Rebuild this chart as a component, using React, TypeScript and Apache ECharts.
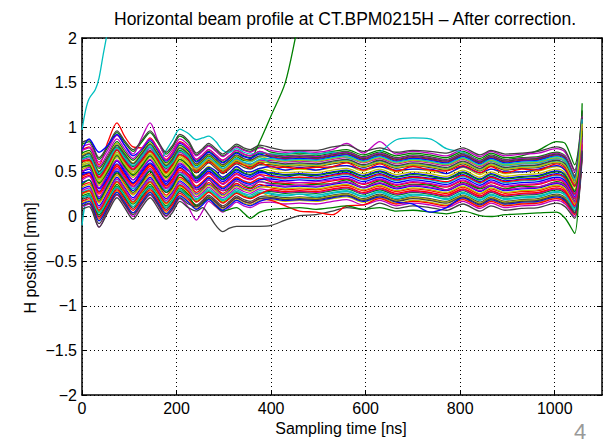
import React, { useEffect, useRef } from "react";
import * as echarts from "echarts";

// Sampling instants (ns) shared by the traces
const sampleTimes = [0, 15, 36, 55, 74, 90, 108, 126, 144, 160, 178, 192, 207, 225, 242, 255, 268, 283, 298, 312, 327, 342, 356, 376, 400, 430, 460, 495, 530, 560, 595, 630, 665, 700, 736, 771, 806, 842, 865, 895, 930, 965, 1004, 1022, 1042, 1058];

// Trace that leaves the plot at the very start (own sampling instants)
const cyanRiseTimes = [0, 8, 15, 28, 36, 45, 55, 65];
const cyanRiseValues = [0.97, 1.2, 1.32, 1.42, 1.55, 1.82, 2.1, 2.4];

// H position traces [mm]
const line01 = [0.50,0.53,0.32,0.47,0.63,0.52,0.41,0.52,0.63,0.52,0.39,0.47,0.59,0.52, 0.42,0.47,0.53,0.47,0.41,0.46,0.52,0.48,0.46,0.51, 0.46,0.44,0.47,0.44,0.47,0.49,0.43,0.48,0.42,0.45,0.43,0.42,0.47,0.39,0.45,0.40,0.42,0.43,0.48,0.44, 0.26,0.94];
const line02 = [0.23,0.26,0.05,0.20,0.36,0.25,0.14,0.25,0.36,0.25,0.12,0.20,0.32,0.25, 0.17,0.22,0.28,0.22,0.16,0.21,0.27,0.23,0.21,0.26, 0.28,0.26,0.27,0.26,0.29,0.31,0.25,0.30,0.24,0.27,0.25,0.22,0.29,0.21,0.27,0.22,0.24,0.25,0.30,0.26, 0.10,0.79];
const line03 = [0.75,0.78,0.58,0.84,1.05,0.90,0.78,0.77,0.88,0.77,0.64,0.72,0.84,0.77, 0.64,0.69,0.75,0.69,0.63,0.68,0.74,0.70,0.68,0.73, 0.67,0.65,0.66,0.65,0.68,0.70,0.64,0.69,0.63,0.66,0.64,0.61,0.68,0.60,0.66,0.61,0.63,0.64,0.69,0.65, 0.44,1.10];
const line04 = [-0.10,0.25,0.22,0.37,0.53,0.42,0.31,0.42,0.53,0.42,0.29,0.37,0.49,0.42, 0.33,0.38,0.44,0.38,0.32,0.37,0.43,0.39,0.37,0.42, 0.44,0.42,0.43,0.42,0.45,0.47,0.41,0.46,0.40,0.43,0.41,0.38,0.45,0.37,0.43,0.38,0.40,0.41,0.46,0.42, 0.24,0.92];
const line05 = [0.63,0.66,0.45,0.60,0.76,0.65,0.54,0.65,0.76,0.65,0.52,0.60,0.72,0.65, 0.54,0.59,0.65,0.59,0.53,0.58,0.64,0.60,0.58,0.63, 0.63,0.61,0.62,0.61,0.64,0.66,0.60,0.65,0.59,0.62,0.60,0.57,0.64,0.56,0.62,0.57,0.59,0.60,0.65,0.61, 0.40,1.07];
const line06 = [0.15,0.18,-0.04,0.12,0.28,0.17,0.04,0.17,0.28,0.17,0.04,0.12,0.24,0.17, 0.09,0.14,0.20,0.14,0.08,0.13,0.19,0.15,0.13,0.18, 0.19,0.17,0.18,0.17,0.20,0.22,0.16,0.21,0.15,0.18,0.16,0.13,0.20,0.12,0.18,0.13,0.15,0.16,0.21,0.17, 0.03,0.72];
const line07 = [0.55,0.58,0.37,0.52,0.68,0.57,0.46,0.57,0.68,0.57,0.44,0.52,0.64,0.57, 0.49,0.54,0.60,0.54,0.48,0.53,0.59,0.55,0.53,0.58, 0.58,0.56,0.57,0.56,0.59,0.61,0.55,0.60,0.54,0.57,0.55,0.52,0.59,0.51,0.57,0.52,0.54,0.55,0.60,0.56, 0.36,1.03];
const line08 = [0.31,0.34,0.12,0.28,0.44,0.33,0.21,0.33,0.44,0.33,0.20,0.28,0.40,0.33, 0.25,0.30,0.36,0.30,0.24,0.29,0.35,0.31,0.29,0.34, 0.35,0.33,0.34,0.33,0.36,0.38,0.32,0.37,0.31,0.34,0.32,0.29,0.36,0.28,0.34,0.29,0.31,0.32,0.37,0.33, 0.16,0.85];
const line09 = [0.81,0.84,0.64,0.78,0.94,0.83,0.73,0.83,0.94,0.83,0.70,0.78,0.90,0.83, 0.69,0.74,0.80,0.74,0.68,0.73,0.79,0.75,0.73,0.78, 0.72,0.70,0.71,0.70,0.73,0.75,0.69,0.74,0.68,0.71,0.69,0.66,0.73,0.65,0.71,0.66,0.68,0.74,0.84,0.82, 0.58,1.18];
const line10 = [0.43,0.46,0.25,0.40,0.56,0.45,0.34,0.45,0.56,0.45,0.32,0.40,0.52,0.45, 0.34,0.39,0.45,0.39,0.33,0.38,0.44,0.40,0.38,0.43, 0.39,0.37,0.38,0.37,0.40,0.42,0.36,0.41,0.35,0.38,0.36,0.33,0.40,0.32,0.38,0.33,0.35,0.36,0.41,0.37, 0.20,0.88];
const line11 = [0.67,0.70,0.50,0.64,0.80,0.69,0.59,0.69,0.80,0.69,0.56,0.64,0.76,0.69, 0.57,0.62,0.68,0.62,0.56,0.61,0.67,0.63,0.61,0.66, 0.60,0.58,0.59,0.58,0.61,0.63,0.57,0.62,0.56,0.59,0.57,0.54,0.61,0.53,0.59,0.54,0.56,0.57,0.62,0.58, 0.38,1.05];
const line12 = [0.11,0.14,-0.12,0.08,0.24,0.13,0.00,0.13,0.24,0.13,0.00,0.08,0.20,0.10, -0.04,0.06,0.17,0.11,0.05,0.10,0.16,0.12,0.10,0.15, 0.16,0.14,0.15,0.14,0.17,0.19,0.13,0.18,0.12,0.15,0.13,0.10,0.17,0.09,0.15,0.10,0.12,0.13,0.18,0.14, 0.00,0.70];
const line13 = [0.59,0.62,0.41,0.56,0.72,0.61,0.50,0.61,0.72,0.61,0.48,0.56,0.68,0.61, 0.51,0.56,0.62,0.56,0.50,0.55,0.61,0.57,0.55,0.60, 0.54,0.52,0.53,0.52,0.55,0.57,0.51,0.56,0.50,0.53,0.51,0.48,0.55,0.47,0.53,0.48,0.50,0.51,0.56,0.52, 0.33,1.00];
const line14 = [0.19,0.22,0.00,0.16,0.32,0.21,0.09,0.21,0.32,0.21,0.08,0.16,0.28,0.21, 0.13,0.18,0.24,0.18,0.12,0.17,0.23,0.19,0.17,0.22, 0.23,0.21,0.22,0.21,0.24,0.26,0.20,0.25,0.19,0.22,0.20,0.17,0.24,0.16,0.22,0.17,0.19,0.20,0.25,0.21, 0.06,0.75];
const line15 = [0.46,0.49,0.28,0.43,0.59,0.48,0.37,0.48,0.59,0.48,0.35,0.43,0.55,0.48, 0.40,0.45,0.51,0.45,0.39,0.44,0.50,0.46,0.44,0.49, 0.49,0.47,0.48,0.47,0.50,0.52,0.46,0.51,0.45,0.48,0.46,0.43,0.50,0.42,0.48,0.43,0.45,0.46,0.51,0.47, 0.28,0.96];
const line16 = [0.71,0.74,0.54,0.68,0.84,0.73,0.63,0.73,0.84,0.73,0.60,0.68,0.80,0.73, 0.62,0.67,0.73,0.67,0.61,0.66,0.72,0.68,0.66,0.71, 0.70,0.68,0.69,0.68,0.71,0.73,0.67,0.72,0.66,0.69,0.67,0.64,0.71,0.63,0.69,0.64,0.66,0.67,0.72,0.68, 0.46,1.13];
const line17 = [0.35,0.38,0.16,0.32,0.48,0.37,0.25,0.37,0.48,0.37,0.24,0.32,0.44,0.37, 0.27,0.32,0.38,0.32,0.26,0.31,0.37,0.33,0.31,0.36, 0.32,0.30,0.31,0.30,0.33,0.35,0.29,0.34,0.28,0.31,0.29,0.26,0.33,0.25,0.31,0.26,0.28,0.29,0.34,0.30, 0.14,0.82];
const line18 = [0.27,0.30,0.08,0.24,0.40,0.29,0.17,0.29,0.40,0.29,0.16,0.24,0.36,0.29, 0.20,0.25,0.31,0.25,0.19,0.24,0.30,0.26,0.24,0.29, 0.26,0.24,0.25,0.24,0.27,0.29,0.23,0.28,0.22,0.25,0.23,0.20,0.27,0.19,0.25,0.20,0.22,0.23,0.28,0.24, 0.09,0.78];
const line19 = [0.78,0.81,0.61,0.75,0.91,0.80,0.70,0.88,1.05,0.86,0.67,0.75,0.87,0.80, 0.68,0.73,0.79,0.73,0.67,0.72,0.78,0.74,0.72,0.77, 0.74,0.72,0.73,0.72,0.75,0.82,0.71,0.84,0.70,0.73,0.71,0.68,0.75,0.67,0.73,0.68,0.70,0.71,0.76,0.72, 0.50,1.16];
const line20 = [0.53,0.56,0.35,0.50,0.66,0.55,0.44,0.55,0.66,0.55,0.42,0.50,0.62,0.55, 0.45,0.50,0.56,0.50,0.44,0.49,0.55,0.51,0.49,0.54, 0.51,0.49,0.50,0.49,0.52,0.54,0.48,0.53,0.47,0.50,0.48,0.45,0.52,0.44,0.50,0.45,0.47,0.48,0.53,0.49, 0.30,0.98];
const line21 = [0.08,0.11,-0.12,0.05,0.21,0.10,-0.03,0.10,0.21,0.10,-0.03,0.05,0.17,0.10, 0.06,0.10,0.02,-0.10,-0.17,-0.13,-0.11,-0.11,-0.11,-0.11, -0.10,-0.04,0.01,0.02,0.06,0.10,0.08,0.15,0.09,0.12,0.10,0.07,0.14,0.06,0.12,0.07,0.09,0.10,0.15,0.11, -0.02,0.67];
const line22 = [0.38,0.41,0.20,0.35,0.51,0.40,0.29,0.40,0.51,0.40,0.27,0.35,0.47,0.40, 0.32,0.37,0.43,0.37,0.31,0.36,0.42,0.38,0.36,0.41, 0.42,0.40,0.41,0.40,0.43,0.45,0.39,0.44,0.38,0.41,0.39,0.36,0.43,0.35,0.41,0.36,0.38,0.39,0.44,0.40, 0.22,0.90];
const line23 = [0.65,0.68,0.47,0.62,0.78,0.67,0.56,0.67,0.78,0.67,0.54,0.62,0.74,0.67, 0.57,0.62,0.68,0.62,0.56,0.61,0.67,0.63,0.64, 0.84, 1.13,1.50,2.20,2.80];
const line24 = [0.17,0.20,-0.02,0.14,0.30,0.19,0.07,0.19,0.30,0.19,0.06,0.14,0.26,0.19, 0.11,0.16,0.22,0.16,0.10,0.15,0.21,0.17,0.15,0.20, 0.18,0.12,0.06,0.05,0.02,0.12,0.13,0.20,0.14,0.17,0.15,0.12,0.19,0.11,0.17,0.12,0.14,0.15,0.20,0.16, 0.02,0.71];
const line25 = [0.57,0.60,0.39,0.54,0.70,0.59,0.48,0.59,0.70,0.59,0.74,0.86,0.98,0.93, 0.86,0.88,0.90,0.84,0.74,0.72,0.76,0.72,0.70,0.72, 0.70,0.70,0.72,0.70,0.72,0.66,0.62,0.72,0.86,0.88,0.87,0.76,0.72,0.62,0.62,0.57,0.59,0.60,0.65,0.61, 0.41,1.08];
const line26 = [0.29,0.32,0.10,0.26,0.42,0.31,0.19,0.31,0.42,0.31,0.18,0.26,0.38,0.31, 0.22,0.27,0.33,0.27,0.21,0.26,0.32,0.28,0.26,0.31, 0.29,0.27,0.28,0.27,0.30,0.32,0.26,0.31,0.25,0.28,0.26,0.23,0.30,0.22,0.28,0.23,0.25,0.26,0.31,0.27, 0.11,0.80];
const line27 = [0.69,0.72,0.51,0.66,0.82,0.71,0.60,0.71,0.82,0.71,0.58,0.66,0.78,0.71, 0.58,0.63,0.69,0.63,0.57,0.62,0.68,0.64,0.62,0.67, 0.64,0.62,0.63,0.62,0.65,0.67,0.61,0.66,0.60,0.63,0.61,0.58,0.65,0.57,0.63,0.58,0.60,0.61,0.66,0.62, 0.41,1.08];
const line28 = [0.83,0.86,0.66,0.80,0.96,0.85,0.75,0.85,0.96,0.85,0.72,0.80,0.92,0.85, 0.71,0.76,0.82,0.76,0.70,0.75,0.81,0.77,0.75,0.80, 0.77,0.74,0.74,0.74,0.78,0.80,0.73,0.77,0.72,0.74,0.73,0.71,0.77,0.69,0.74,0.70,0.71,0.73,0.78,0.74, 0.52,1.19];
const line29 = [0.74,0.87,0.72,0.80,0.92,0.80,0.68,0.75,0.86,0.75,0.62,0.70,0.82,0.75, 0.61,0.66,0.72,0.66,0.60,0.65,0.71,0.67,0.65,0.70, 0.66,0.64,0.65,0.64,0.67,0.69,0.63,0.68,0.62,0.65,0.63,0.60,0.67,0.59,0.65,0.60,0.62,0.63,0.68,0.64, 0.43,1.10];
const line30 = [0.21,0.24,0.02,0.18,0.34,0.23,0.11,0.23,0.34,0.23,0.10,0.18,0.30,0.23, 0.12,0.15,0.20,0.12,0.06,0.08,0.10,0.04,-0.02,0.05, 0.08,0.09,0.10,0.08,0.10,0.12,0.08,0.10,0.06,0.07,0.05,0.03,0.06,0.01,0.00,0.02,0.03,0.04,0.05,-0.02, -0.19,1.27];
const line31 = [0.45,0.48,0.27,0.42,0.58,0.47,0.36,0.47,0.58,0.47,0.34,0.42,0.54,0.47, 0.38,0.43,0.49,0.43,0.37,0.42,0.48,0.44,0.42,0.47, 0.45,0.43,0.44,0.43,0.46,0.48,0.42,0.47,0.41,0.44,0.42,0.39,0.46,0.38,0.44,0.39,0.41,0.42,0.47,0.43, 0.25,0.93];
const line33 = [0.74,0.77,0.56,0.71,0.87,0.76,0.65,0.76,0.87,0.76,0.63,0.71,0.83,0.76, 0.64,0.69,0.75,0.69,0.63,0.68,0.74,0.70,0.68,0.73, 0.69,0.67,0.68,0.67,0.70,0.72,0.66,0.71,0.65,0.68,0.66,0.63,0.70,0.62,0.68,0.63,0.65,0.66,0.71,0.67, 0.45,1.12];
const line34 = [0.25,0.28,0.06,0.22,0.38,0.27,0.15,0.27,0.38,0.27,0.14,0.22,0.34,0.27, 0.18,0.23,0.29,0.23,0.17,0.22,0.28,0.24,0.22,0.27, 0.22,0.20,0.21,0.20,0.23,0.25,0.19,0.24,0.18,0.21,0.19,0.16,0.23,0.15,0.21,0.16,0.18,0.19,0.24,0.20, 0.05,0.74];
const line35 = [0.61,0.64,0.43,0.58,0.74,0.63,0.52,0.63,0.74,0.63,0.50,0.58,0.70,0.63, 0.52,0.57,0.63,0.57,0.51,0.56,0.62,0.58,0.56,0.61, 0.61,0.59,0.60,0.59,0.62,0.64,0.58,0.63,0.57,0.60,0.58,0.55,0.62,0.54,0.60,0.55,0.57,0.58,0.63,0.59, 0.38,1.06];
const line36 = [0.48,0.50,0.31,0.44,0.62,0.50,0.38,0.50,0.60,0.51,0.37,0.46,0.57,0.51, 0.44,0.50,0.55,0.51,0.44,0.49,0.56,0.51,0.50,0.54, 0.56,0.52,0.55,0.52,0.56,0.57,0.53,0.56,0.52,0.53,0.53,0.48,0.56,0.49,0.53,0.50,0.50,0.53,0.57,0.52, 0.34,1.01];
const line37 = [0.36,0.41,0.18,0.35,0.49,0.40,0.27,0.38,0.51,0.38,0.27,0.33,0.47,0.38, 0.30,0.33,0.41,0.33,0.29,0.32,0.40,0.35,0.32,0.39, 0.37,0.36,0.35,0.36,0.37,0.41,0.33,0.40,0.33,0.36,0.35,0.30,0.38,0.31,0.35,0.31,0.34,0.33,0.39,0.35, 0.18,0.86];
const line38 = [0.62,0.63,0.44,0.57,0.75,0.62,0.53,0.62,0.73,0.64,0.49,0.59,0.69,0.64, 0.50,0.57,0.61,0.57,0.49,0.55,0.60,0.58,0.54,0.60, 0.56,0.55,0.54,0.55,0.56,0.60,0.52,0.59,0.51,0.56,0.52,0.51,0.57,0.49,0.56,0.49,0.53,0.52,0.59,0.54, 0.34,1.02];
const line39 = [0.22,0.23,0.04,0.19,0.33,0.24,0.11,0.24,0.33,0.24,0.10,0.19,0.30,0.22, 0.19,0.24,0.29,0.24,0.18,0.22,0.28,0.25,0.22,0.27, 0.25,0.23,0.25,0.22,0.26,0.28,0.22,0.27,0.20,0.24,0.23,0.19,0.26,0.18,0.24,0.19,0.21,0.22,0.27,0.24, 0.07,0.76];
const line40 = [0.50,0.55,0.32,0.49,0.63,0.54,0.41,0.53,0.64,0.53,0.40,0.48,0.60,0.52, 0.38,0.43,0.48,0.42,0.36,0.41,0.47,0.43,0.41,0.46, 0.40,0.39,0.38,0.39,0.41,0.43,0.37,0.42,0.36,0.39,0.37,0.34,0.41,0.33,0.39,0.34,0.36,0.37,0.42,0.38, 0.21,0.89];
const line41 = [0.33,0.36,0.15,0.31,0.46,0.35,0.24,0.35,0.46,0.35,0.22,0.30,0.42,0.35, 0.24,0.29,0.35,0.29,0.23,0.28,0.34,0.30,0.28,0.33, 0.33,0.31,0.32,0.31,0.34,0.36,0.30,0.35,0.29,0.32,0.30,0.27,0.34,0.26,0.32,0.27,0.29,0.30,0.35,0.31, 0.14,0.83];
const line42 = [0.67,0.71,0.50,0.66,0.80,0.70,0.59,0.70,0.81,0.70,0.57,0.65,0.77,0.70, 0.59,0.64,0.70,0.64,0.58,0.63,0.69,0.65,0.63,0.68, 0.68,0.66,0.67,0.66,0.69,0.71,0.65,0.70,0.64,0.67,0.65,0.62,0.69,0.61,0.67,0.62,0.64,0.65,0.70,0.66, 0.44,1.11];
const line43 = [0.14,0.17,-0.05,0.11,0.27,0.16,0.04,0.16,0.27,0.16,0.03,0.11,0.23,0.16, 0.08,0.13,0.19,0.13,0.07,0.12,0.18,0.14,0.12,0.17, 0.20,0.18,0.19,0.18,0.21,0.23,0.17,0.22,0.16,0.14,0.05,0.10,0.21,0.13,0.19,0.14,0.16,0.17,0.22,0.18, 0.04,0.73];
const line44 = [0.56,0.57,0.38,0.51,0.69,0.56,0.47,0.56,0.68,0.58,0.44,0.52,0.64,0.57, 0.43,0.48,0.54,0.48,0.42,0.47,0.53,0.49,0.47,0.52, 0.48,0.46,0.47,0.46,0.49,0.51,0.45,0.50,0.44,0.47,0.45,0.42,0.49,0.41,0.47,0.42,0.44,0.45,0.50,0.46, 0.28,0.96];
const line45 = [0.26,0.29,0.07,0.23,0.39,0.28,0.16,0.28,0.39,0.28,0.15,0.23,0.35,0.28, 0.16,0.21,0.27,0.21,0.15,0.20,0.26,0.22,0.20,0.25, 0.30,0.28,0.29,0.28,0.31,0.33,0.27,0.32,0.26,0.29,0.27,0.24,0.31,0.23,0.29,0.24,0.26,0.27,0.32,0.28, 0.12,0.81];
const line46 = [0.64,0.67,0.48,0.62,0.77,0.66,0.57,0.67,0.78,0.67,0.55,0.61,0.73,0.67, 0.55,0.60,0.66,0.60,0.54,0.59,0.65,0.61,0.59,0.64, 0.65,0.63,0.64,0.63,0.66,0.68,0.62,0.67,0.61,0.64,0.62,0.59,0.66,0.58,0.64,0.59,0.61,0.62,0.67,0.63, 0.42,1.09];
const line47 = [0.41,0.45,0.22,0.39,0.54,0.43,0.33,0.43,0.54,0.42,0.31,0.38,0.50,0.44, 0.30,0.35,0.41,0.35,0.29,0.34,0.40,0.36,0.34,0.39, 0.36,0.34,0.35,0.34,0.37,0.39,0.33,0.38,0.32,0.35,0.33,0.30,0.37,0.29,0.35,0.30,0.32,0.33,0.38,0.34, 0.17,0.86];
const line48 = [0.57,0.60,0.39,0.54,0.70,0.59,0.48,0.59,0.70,0.59,0.46,0.54,0.66,0.59, 0.53,0.58,0.64,0.58,0.52,0.57,0.63,0.59,0.57,0.62, 0.59,0.57,0.58,0.57,0.60,0.62,0.56,0.61,0.55,0.58,0.56,0.53,0.60,0.52,0.58,0.53,0.55,0.56,0.61,0.57, 0.37,1.04];
const line49 = [0.12,0.15,-0.08,0.09,0.25,0.14,0.02,0.14,0.25,0.14,0.01,0.09,0.21,0.14, 0.11,0.16,0.22,0.16,0.10,0.15,0.21,0.17,0.15,0.20, 0.21,0.19,0.20,0.19,0.22,0.24,0.18,0.23,0.17,0.20,0.18,0.15,0.22,0.14,0.20,0.15,0.17,0.18,0.23,0.19, 0.04,0.74];

// Axis ticks
const xTickValues = [0, 200, 400, 600, 800, 1000];
const yTickValues = [-2, -1.5, -1, -0.5, 0, 0.5, 1, 1.5, 2];

// MATLAB default colour order
const colorOrder = ["#0000FF", "#008000", "#FF0000", "#00BFBF", "#BF00BF", "#BFBF00", "#404040"];

const traces: { times: number[]; values: number[] }[] = [
  line01, line02, line03, line04, line05, line06, line07, line08, line09, line10,
  line11, line12, line13, line14, line15, line16, line17, line18, line19, line20,
  line21, line22, line23, line24, line25, line26, line27, line28, line29, line30,
  line31,
].map((v) => ({ times: sampleTimes, values: v }));
traces.push({ times: cyanRiseTimes, values: cyanRiseValues });
[line33, line34, line35, line36, line37, line38, line39, line40, line41, line42,
 line43, line44, line45, line46, line47, line48, line49].forEach((v) => traces.push({ times: sampleTimes, values: v }));

const FONT = "'Liberation Sans', Arial, Helvetica, sans-serif";

export default function App() {
  const ref = useRef<HTMLDivElement>(null);
  useEffect(() => {
    if (!ref.current) return;
    const chart = echarts.init(ref.current, undefined, { renderer: "svg" });
    const series = traces.map((tr, i) => ({
      type: "line",
      xAxisIndex: 0,
      yAxisIndex: 0,
      data: tr.values.map((v, j) => [tr.times[j], v]),
      showSymbol: false,
      symbol: "none",
      smooth: 0.3,
      clip: true,
      silent: true,
      z: 2,
      lineStyle: { width: 1.3, color: colorOrder[i % colorOrder.length] },
    }));
    const axisLine = { show: true, onZero: false, lineStyle: { color: "#000", width: 1.5 } };
    const axisTick = { show: true, inside: true, length: 5, lineStyle: { color: "#000", width: 1 } };
    const fmt = (v: number) => String(v).replace("-", "\u2212");
    chart.setOption({
      animation: false,
      backgroundColor: "#fff",
      grid: { left: 82, right: 10, top: 38, bottom: 49, containLabel: false, outerBoundsMode: "none" },
      xAxis: [
        {
          type: "value", position: "bottom", min: 0, max: 1100, interval: 200,
          axisLine, axisTick,
          axisLabel: {
            color: "#000", fontSize: 16, fontFamily: FONT, margin: 5, showMaxLabel: false,
            formatter: (v: number) => (xTickValues.includes(v) ? fmt(v) : ""),
          },
          splitLine: { show: true, lineStyle: { color: "#000", type: [1, 3], width: 1 } },
        },
        {
          type: "value", position: "top", min: 0, max: 1100, interval: 200,
          axisLine, axisTick, axisLabel: { show: false }, splitLine: { show: false },
        },
      ],
      yAxis: [
        {
          type: "value", position: "left", min: -2, max: 2, interval: 0.5,
          axisLine, axisTick,
          axisLabel: {
            color: "#000", fontSize: 16, fontFamily: FONT, margin: 5,
            formatter: (v: number) => (yTickValues.includes(v) ? fmt(v) : ""),
          },
          splitLine: { show: true, lineStyle: { color: "#000", type: [1, 3], width: 1 } },
        },
        {
          type: "value", position: "right", min: -2, max: 2, interval: 0.5,
          axisLine, axisTick, axisLabel: { show: false }, splitLine: { show: false },
        },
      ],
      series,
      graphic: [
        {
          type: "text", x: 345, y: 19,
          style: { text: "Horizontal beam profile at CT.BPM0215H \u2013 After correction.", fontSize: 17.5, fontFamily: FONT, fill: "#000", textAlign: "center", textVerticalAlign: "middle" },
        },
        {
          type: "text", x: 341, y: 428,
          style: { text: "Sampling time [ns]", fontSize: 16, fontFamily: FONT, fill: "#000", textAlign: "center", textVerticalAlign: "middle" },
        },
        {
          type: "text", x: 30, y: 258, rotation: Math.PI / 2,
          style: { text: "H position [mm]", fontSize: 16, fontFamily: FONT, fill: "#000", textAlign: "center", textVerticalAlign: "middle" },
        },
        {
          type: "text", x: 580, y: 431,
          style: { text: "4", fontSize: 22, fontFamily: FONT, fill: "#999", textAlign: "center", textVerticalAlign: "middle" },
        },
      ],
    });
    return () => chart.dispose();
  }, []);
  return <div ref={ref} style={{ position: "absolute", left: 0, top: 0, width: 612, height: 444 }} />;
}
